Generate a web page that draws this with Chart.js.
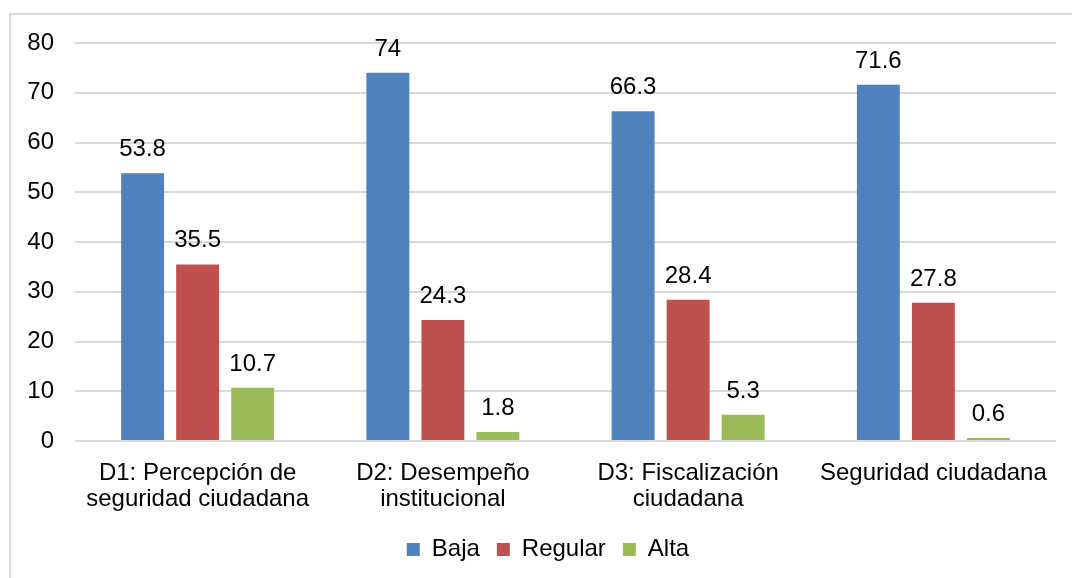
<!DOCTYPE html>
<html>
<head>
<meta charset="utf-8">
<script src="https://cdn.jsdelivr.net/npm/chart.js@4.4.0/dist/chart.umd.min.js"></script>
<style>
  html, body { margin: 0; padding: 0; background: #fff; overflow: hidden; }
  #wrap { position: relative; width: 1072px; height: 578px; }
  #frame { position: absolute; left: 9px; top: 13px; width: 1100px; height: 620px;
           border: 2px solid #d9d9d9; box-sizing: border-box; }
  canvas { position: absolute; left: 0; top: 0; }
</style>
</head>
<body>
<div id="wrap">
  <div id="frame"></div>
  <canvas id="chart" width="1072" height="578"></canvas>
</div>
<script>
// Categories (multi-line labels) and the three series.
const categories = [
    ["D1: Percepción de", "seguridad ciudadana"],
    ["D2: Desempeño", "institucional"],
    ["D3: Fiscalización", "ciudadana"],
    ["Seguridad ciudadana"],
];
const seriesNames = ["Baja", "Regular", "Alta"];
const baja = [53.8, 74, 66.3, 71.6];
const regular = [35.5, 24.3, 28.4, 27.8];
const alta = [10.7, 1.8, 5.3, 0.6];
const yTicks = [0, 10, 20, 30, 40, 50, 60, 70, 80];

const COLORS = ["#4f81bd", "#c0504d", "#9bbb59"];
const FONT = "'Liberation Sans', Arial, sans-serif";
const FS = 24;
const GRID = "#d9d9d9";

// Value labels above each bar, placed from the bar elements themselves.
const valueLabels = {
    id: "valueLabels",
    afterDatasetsDraw(chart) {
        const ctx = chart.ctx;
        ctx.save();
        ctx.font = FS + "px " + FONT;
        ctx.fillStyle = "#000";
        ctx.textAlign = "center";
        ctx.textBaseline = "alphabetic";
        chart.data.datasets.forEach((ds, i) => {
            chart.getDatasetMeta(i).data.forEach((bar, j) => {
                ctx.fillText(String(ds.data[j]), bar.x, bar.y - 17);
            });
        });
        ctx.restore();
    },
};

// The legend in the reference sits a bit right of the canvas centre.
const legendShift = {
    id: "legendShift",
    afterLayout(chart) {
        if (chart.legend) {
            chart.legend.left += 20;
            chart.legend.right += 20;
        }
    },
};

new Chart(document.getElementById("chart").getContext("2d"), {
    type: "bar",
    data: {
        labels: categories,
        datasets: [baja, regular, alta].map((d, i) => ({
            label: seriesNames[i],
            data: d,
            backgroundColor: COLORS[i],
            borderWidth: 0,
            categoryPercentage: 0.673,
            barPercentage: 0.78,
        })),
    },
    options: {
        responsive: false,
        animation: false,
        layout: { padding: { left: 0, right: 16, top: 43, bottom: 6.5 } },
        plugins: {
            tooltip: { enabled: false },
            legend: {
                position: "bottom",
                labels: {
                    boxWidth: 13,
                    boxHeight: 13,
                    padding: 17,
                    color: "#000",
                    font: { family: FONT, size: FS },
                },
            },
        },
        scales: {
            x: {
                grid: { display: false },
                border: { display: false },
                ticks: {
                    color: "#000",
                    padding: 12,
                    maxRotation: 0,
                    autoSkip: false,
                    font: { family: FONT, size: FS, lineHeight: 1.07 },
                },
                afterFit: (scale) => { scale.height = 79.5; },
            },
            y: {
                min: 0,
                max: 80,
                afterBuildTicks: (scale) => { scale.ticks = yTicks.map((v) => ({ value: v })); },
                grid: { color: GRID, lineWidth: 2, drawTicks: false },
                border: { display: false },
                ticks: {
                    color: "#000",
                    padding: 21,
                    font: { family: FONT, size: FS },
                },
                afterFit: (scale) => { scale.width = 75; },
            },
        },
    },
    plugins: [valueLabels, legendShift],
});
</script>
</body>
</html>
